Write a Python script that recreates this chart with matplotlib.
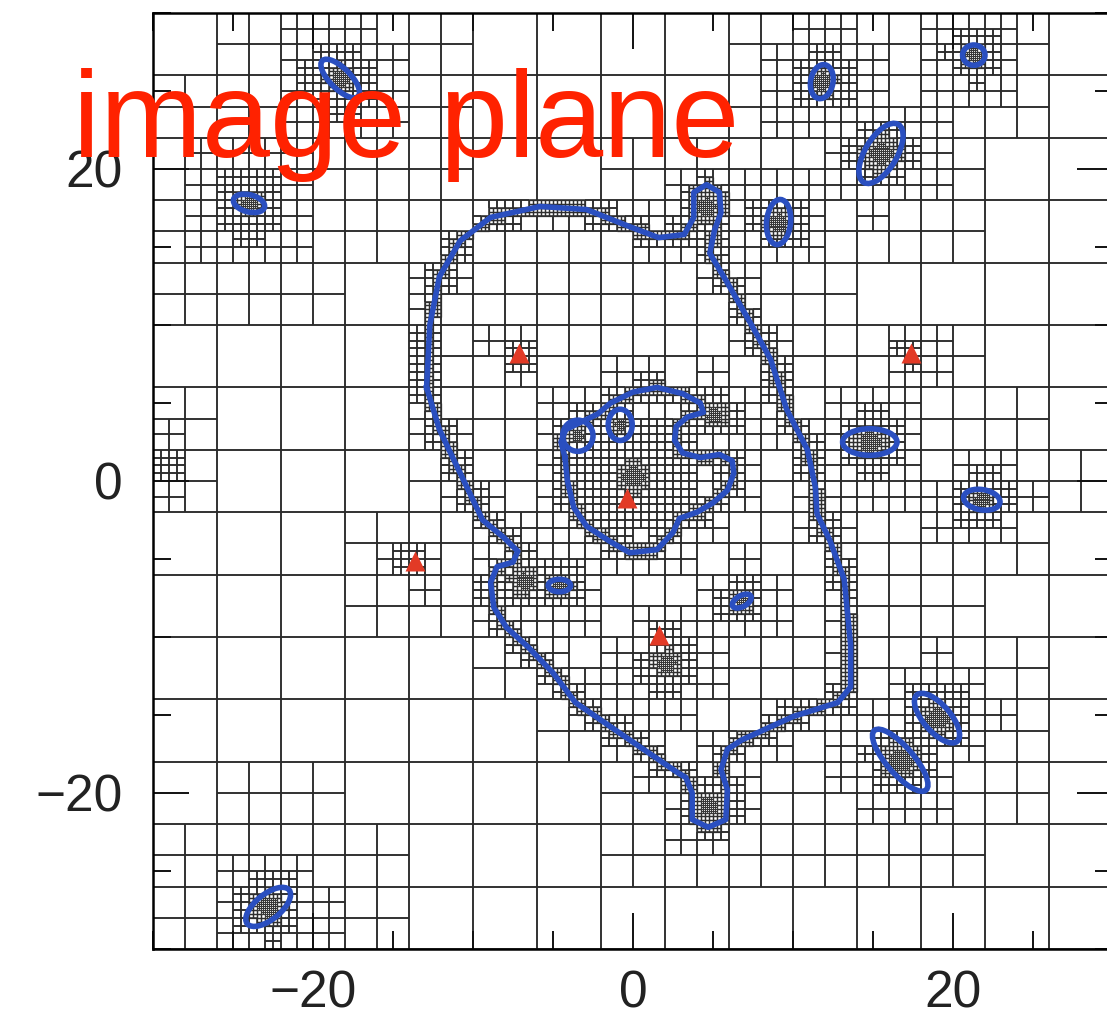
import numpy as np
import matplotlib.pyplot as plt
from matplotlib.collections import LineCollection
from matplotlib.patches import Ellipse
from matplotlib.path import Path

# outer critical curve (closed loop, arcsec)
outer_x = [-12.9, -12.7, -12.1, -10.8, -8.9, -5.8, -2.9, -0.2, 1.6, 3.2,
           3.8, 3.8, 4.6, 5.4, 5.5, 5.1, 4.8, 5.9, 7.3, 8.6, 9.6, 10.9,
           11.4, 11.5, 12.3, 13.2, 13.6, 13.6, 12.8, 10.0, 6.8, 5.9, 5.5,
           5.9, 5.8, 4.7, 3.7, 3.7, 3.3, 2.8, -0.2, -3.6, -5.0, -6.6, -7.9,
           -8.7, -8.9, -8.5, -7.5, -7.2, -8.1, -9.4, -10.8, -12.1, -12.9]
outer_y = [6.0, 10.0, 13.1, 15.4, 16.9, 17.6, 17.4, 16.3, 15.6, 15.8,
           16.9, 18.5, 19.0, 18.5, 17.2, 16.1, 14.6, 12.7, 10.2, 7.8, 4.6, 2.0,
           -0.4, -2.1, -3.8, -6.3, -10.5, -13.2, -14.2, -15.1, -16.6, -17.2, -18.5,
           -19.8, -21.7, -22.2, -21.7, -20.0, -19.0, -18.7, -16.6, -14.2, -12.3, -10.6, -9.4,
           -8.1, -6.5, -5.5, -5.2, -4.5, -3.6, -2.5, 0.5, 3.3, 6.0]

# inner critical curve around the central galaxy
inner_x = [-4.25, -4.1, -3.7, -2.9, -1.4, -0.2, 1.5, 2.5, 2.9, 4.0, 5.0, 5.9,
           6.3, 6.2, 5.4, 4.2, 3.1, 2.6, 2.7, 3.4, 4.4, 4.2, 3.1, 1.5, 0.0,
           -1.4, -2.2, -3.0, -4.2, -4.5, -4.25]
inner_y = [1.5, 0.0, -1.7, -2.9, -3.9, -4.6, -4.4, -3.3, -2.4, -2.0, -1.4, -0.6,
           0.5, 1.3, 1.7, 1.5, 1.8, 2.6, 3.5, 4.1, 4.4, 5.0, 5.6, 6.0, 5.7,
           5.0, 4.3, 3.9, 3.3, 2.5, 1.5]

# small closed critical curves: centre x, centre y, major, minor, angle
loop_x = [-18.3, -24.0, 11.8, 21.3, 15.5, 9.1, 14.8, 21.8, 6.8, -4.6, 16.7, 19.0, -22.8, -3.45, -0.8]
loop_y = [25.8, 17.8, 25.6, 27.3, 21.0, 16.6, 2.5, -1.2, -7.7, -6.7, -17.9, -15.2, -27.3, 2.9, 3.6]
loop_a = [3.2, 2.0, 2.2, 1.4, 4.3, 2.9, 3.4, 2.3, 1.3, 1.4, 5.0, 3.9, 3.4, 2.0, 2.0]
loop_b = [1.3, 1.1, 1.4, 1.3, 2.0, 1.5, 1.7, 1.3, 0.7, 0.8, 1.7, 1.7, 1.6, 1.9, 1.5]
loop_ang = [-46, -15, 80, 0, 60, 85, 0, -10, 30, 0, -50, -50, 40, 90, 90]

# multiple images
img_x = [-7.1, -13.6, 17.4, -0.4, 1.6]
img_y = [8.2, -5.1, 8.2, -1.1, -9.9]

# mesh refinement centres: galaxies, images, extra spots
# w = reach of the coarse levels, r = radius of the fine core
ref_x = [0.0, 5.1, -6.8, -4.6, 2.1, 6.8, 4.6, 4.7, -3.45, -0.8,
         -18.3, -24.0, 11.8, 21.3, 15.5, 9.1, 14.8, 21.8, 16.7, 19.0, -22.8,
         -7.1, -13.6, 17.4, -0.4, 1.6, -29.2]
ref_y = [0.3, 4.2, -6.4, -6.7, -11.7, -7.7, 17.6, -20.8, 2.9, 3.6,
         25.8, 17.8, 25.6, 27.3, 21.0, 16.6, 2.5, -1.2, -17.9, -15.2, -27.3,
         8.2, -5.1, 8.2, -1.1, -9.9, 1.0]
ref_w = [2.0, 0.9, 1.0, 0.9, 1.0, 0.9, 0.9, 0.9, 0.7, 0.7,
         1.3, 1.3, 1.1, 1.0, 1.2, 1.0, 1.2, 1.0, 1.2, 1.2, 1.2,
         0.6, 0.6, 0.6, 0.6, 0.6, 0.6]
ref_r = [1.2, 0.9, 1.0, 0.9, 1.0, 0.8, 1.0, 1.0, 0.6, 0.6,
         1.0, 0.9, 1.0, 0.8, 1.3, 1.0, 1.2, 0.9, 1.3, 1.2, 1.1,
         0, 0, 0, 0, 0, 0]

BLUE = '#2a4fc0'

segs = []
for xs, ys in [(outer_x, outer_y), (inner_x, inner_y)]:
    p = np.column_stack([xs, ys])
    segs.append(np.column_stack([p[:-1], p[1:]]))
segs = np.vstack(segs)
outer_path = Path(np.column_stack([outer_x, outer_y]))
rx, ry = np.array(ref_x), np.array(ref_y)
rw, rr = np.array(ref_w), np.array(ref_r)


def dist_curve(x, y):
    ax_, ay_, bx_, by_ = segs.T
    dx, dy = bx_ - ax_, by_ - ay_
    t = ((x - ax_) * dx + (y - ay_) * dy) / (dx * dx + dy * dy)
    t = np.clip(t, 0, 1)
    return np.min(np.hypot(ax_ + t * dx - x, ay_ + t * dy - y))


def needs_split(cx, cy, s):
    d = dist_curve(cx, cy)
    if s > 0.5 and d < 0.5 * s + 0.3:
        return True
    if s == 0.5 and d < 0.35:
        return True
    dg = np.hypot(rx - cx, ry - cy)
    if s >= 1 and np.any(dg < rw * (1.6 * s + 0.3)):
        return True
    if s == 0.5 and np.any(dg < rr):
        return True
    if s == 0.25 and np.any(dg < 0.55 * rr):
        return True
    if s == 4 and outer_path.contains_point((cx, cy)):
        return True
    return False


cells = []


def build(x0, y0, s):
    if needs_split(x0 + s / 2, y0 + s / 2, s):
        h = s / 2
        for ox in (0, h):
            for oy in (0, h):
                build(x0 + ox, y0 + oy, h)
    else:
        cells.append((x0, y0, s))


for x0 in range(-30, 30, 4):
    for y0 in range(-30, 30, 4):
        build(x0, y0, 4)

# cell edges, grouped by cell size
groups = {}
for x0, y0, s in cells:
    key = 'fine' if s < 0.2 else ('mid' if s < 0.4 else 'coarse')
    groups.setdefault(key, []).extend([
        [(x0, y0), (x0 + s, y0)], [(x0, y0), (x0, y0 + s)],
        [(x0 + s, y0), (x0 + s, y0 + s)], [(x0, y0 + s), (x0 + s, y0 + s)]])
styles = {'coarse': ('#2b2b2b', 1.1), 'mid': ('#2e2e2e', 0.9), 'fine': ('#383838', 0.75)}

fig = plt.figure(figsize=(11.07, 10.21), dpi=100)
ax = fig.add_axes([153 / 1107, 72 / 1021, 960 / 1107, 936 / 1021])
for key, segl in groups.items():
    c, lw = styles[key]
    ax.add_collection(LineCollection(segl, colors=c, linewidths=lw, zorder=1))

ax.plot(outer_x, outer_y, color=BLUE, lw=4, solid_joinstyle='round', zorder=3)
ax.plot(inner_x, inner_y, color=BLUE, lw=4, solid_joinstyle='round', zorder=3)
for x, y, a, b, ang in zip(loop_x, loop_y, loop_a, loop_b, loop_ang):
    ax.add_patch(Ellipse((x, y), a, b, angle=ang, fill=False, ec=BLUE, lw=4, zorder=3))

ax.plot(img_x, img_y, '^', color='#e23a26', ms=15, mec='none', zorder=4)

ax.set_xlim(-30, 30)
ax.set_ylim(-30, 30)
ax.set_xticks([-20, 0, 20])
ax.set_yticks([-20, 0, 20])
ax.xaxis.set_minor_locator(plt.MultipleLocator(5))
ax.yaxis.set_minor_locator(plt.MultipleLocator(5))
ax.tick_params(which='both', direction='in', top=True, right=True, width=1.4, color='#111')
ax.tick_params(which='major', length=26, labelsize=37, labelcolor='#222')
ax.tick_params(axis='x', which='major', pad=15)
ax.tick_params(axis='y', which='major', pad=22)
ax.tick_params(which='minor', length=13)
for lab in ax.get_xticklabels() + ax.get_yticklabels():
    lab.set_family('Liberation Sans')
for sp in ax.spines.values():
    sp.set_linewidth(1.8)

fig.text(73 / 1107, 1 - 157 / 1021, 'image plane', fontsize=88, color='#ff2200',
         family='Liberation Sans', ha='left', va='baseline')

fig.savefig('out.png', dpi=100)
